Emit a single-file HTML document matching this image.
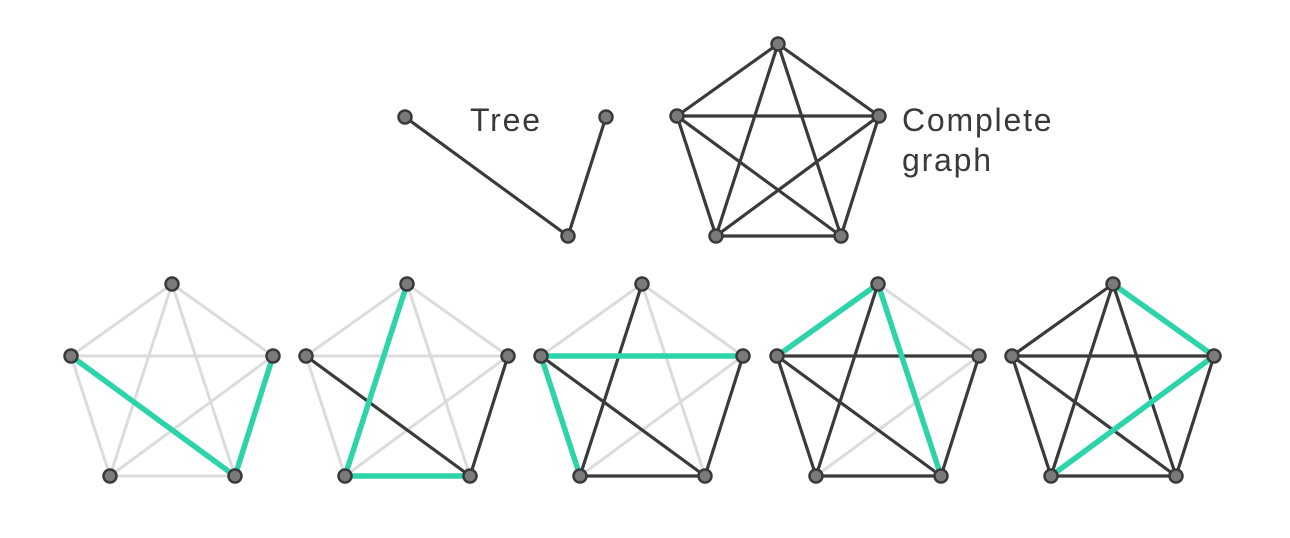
<!DOCTYPE html>
<html><head><style>
html,body{margin:0;padding:0;background:#fff;width:1290px;height:538px;overflow:hidden}
text{font-family:"Liberation Sans",sans-serif;fill:#3a3a3a;font-size:32px;letter-spacing:1.8px}
</style></head><body>
<svg id="s" width="1290" height="538" xmlns="http://www.w3.org/2000/svg">
<text x="470" y="131">Tree</text>
<text x="902" y="131">Complete</text>
<text x="902" y="171">graph</text>
<g id="e"></g><g id="n"></g>
</svg>
<script>
const E=document.getElementById('e'),N=document.getElementById('n'),ns='http://www.w3.org/2000/svg';
const C={d:['#3a3a3a',3.2],g:['#2dd4aa',5.5],l:['#dcdcdc',3]};
function line(a,b,t){const l=document.createElementNS(ns,'line');l.setAttribute('x1',a[0]);l.setAttribute('y1',a[1]);l.setAttribute('x2',b[0]);l.setAttribute('y2',b[1]);l.setAttribute('stroke',C[t][0]);l.setAttribute('stroke-width',C[t][1]);E.appendChild(l);}
function node(p){const c=document.createElementNS(ns,'circle');c.setAttribute('cx',p[0]);c.setAttribute('cy',p[1]);c.setAttribute('r',6.5);c.setAttribute('fill','#7a7a7a');c.setAttribute('stroke','#3a3a3a');c.setAttribute('stroke-width',2.5);N.appendChild(c);}
const t=[[405,117],[606,117],[568,236]];
line(t[0],t[2],'d');line(t[1],t[2],'d');t.forEach(node);
function pent(cx,top){return{T:[cx,top],L:[cx-101,top+72],R:[cx+101,top+72],A:[cx-62,top+192],B:[cx+63,top+192]};}
const pairs=['TL','TR','TA','TB','LR','LA','LB','RA','RB','AB'];
function draw(P,spec,def){const es=[];pairs.forEach(k=>{const t=spec[k]||def;es.push([k,t]);});
 const ord={l:0,d:1,g:2};es.sort((a,b)=>ord[a[1]]-ord[b[1]]);
 es.forEach(([k,t])=>line(P[k[0]],P[k[1]],t));Object.values(P).forEach(node);}
draw(pent(778,44),{},'d');
draw(pent(172,284),{LB:'g',RB:'g'},'l');
draw(pent(407,284),{TA:'g',AB:'g',LB:'d',RB:'d'},'l');
draw(pent(642,284),{LR:'g',LA:'g',TA:'d',LB:'d',AB:'d',RB:'d'},'l');
draw(pent(878,284),{TL:'g',TB:'g',TR:'l',RA:'l'},'d');
draw(pent(1113,284),{TR:'g',RA:'g'},'d');
</script>
</body></html>
